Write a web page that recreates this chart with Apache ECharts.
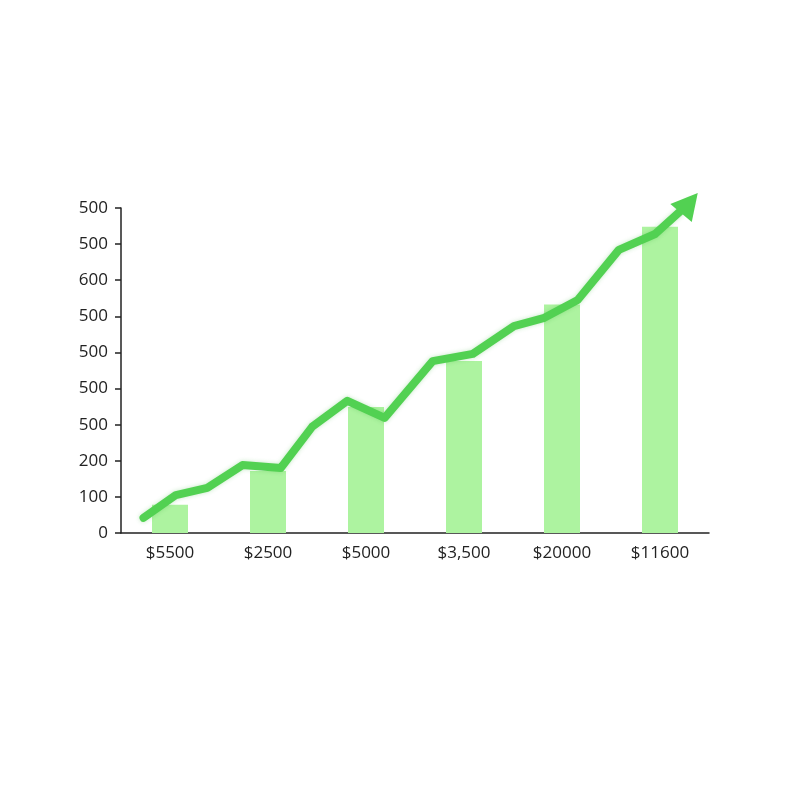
<!DOCTYPE html>
<html>
<head>
<meta charset="utf-8">
<script src="https://cdn.jsdelivr.net/npm/echarts@6/dist/echarts.min.js"></script>
<style>html,body{margin:0;padding:0;background:#fff}#c{width:800px;height:800px}</style>
</head>
<body>
<div id="c"></div>
<script>
const categories = ['$5500', '$2500', '$5000', '$3,500', '$20000', '$11600'];
const barValues = [78, 172, 349, 476, 633, 848];
const yTickLabels = ['0', '100', '200', '500', '500', '500', '500', '600', '500', '500'];
const lineX = [0.23, 0.56, 0.88, 1.24, 1.63, 1.95, 2.31, 2.69, 3.18, 3.59, 4.01, 4.32, 4.66, 5.08, 5.45, 5.80];
const lineY = [42, 105, 125, 188, 180, 294, 366, 319, 476, 496, 573, 596, 645, 784, 828, 914];

const lineData = lineX.map((x, i) => {
  const p = { value: [x, lineY[i]] };
  if (i === lineX.length - 1) {
    p.symbol = 'triangle';
    p.symbolSize = [28, 26];
    p.symbolRotate = -40;
  }
  return p;
});

const chart = echarts.init(document.getElementById('c'));
chart.setOption({
  backgroundColor: '#ffffff',
  animation: false,
  grid: { left: 121, right: 91, top: 208, bottom: 267 },
  xAxis: [
    {
      type: 'category',
      data: categories,
      axisLine: { lineStyle: { color: '#222', width: 1.5 } },
      axisTick: { show: false },
      axisLabel: { color: '#222', fontSize: 17, fontFamily: 'Open Sans, sans-serif', margin: 12 }
    },
    {
      type: 'value',
      min: 0, max: 6,
      show: false
    }
  ],
  yAxis: {
    type: 'value',
    min: 0, max: 900, interval: 100,
    axisLine: { show: true, lineStyle: { color: '#222', width: 1.5 } },
    axisTick: { show: true, length: 6, lineStyle: { color: '#222', width: 1.5 } },
    splitLine: { show: false },
    axisLabel: {
      color: '#222', fontSize: 17, fontFamily: 'Open Sans, sans-serif', margin: 13,
      formatter: (v) => yTickLabels[Math.round(v / 100)]
    }
  },
  series: [
    {
      type: 'bar',
      xAxisIndex: 0,
      data: barValues,
      barWidth: 36,
      itemStyle: { color: '#adf3a0' }
    },
    {
      type: 'line',
      xAxisIndex: 1,
      data: lineData,
      clip: false,
      symbol: 'none',
      showSymbol: true,
      lineStyle: { color: '#52d152', width: 8, shadowColor: 'rgba(60,180,60,0.3)', shadowBlur: 4, join: 'round', cap: 'round' },
      itemStyle: { color: '#52d152' },
      z: 5
    }
  ]
});
</script>
</body>
</html>
